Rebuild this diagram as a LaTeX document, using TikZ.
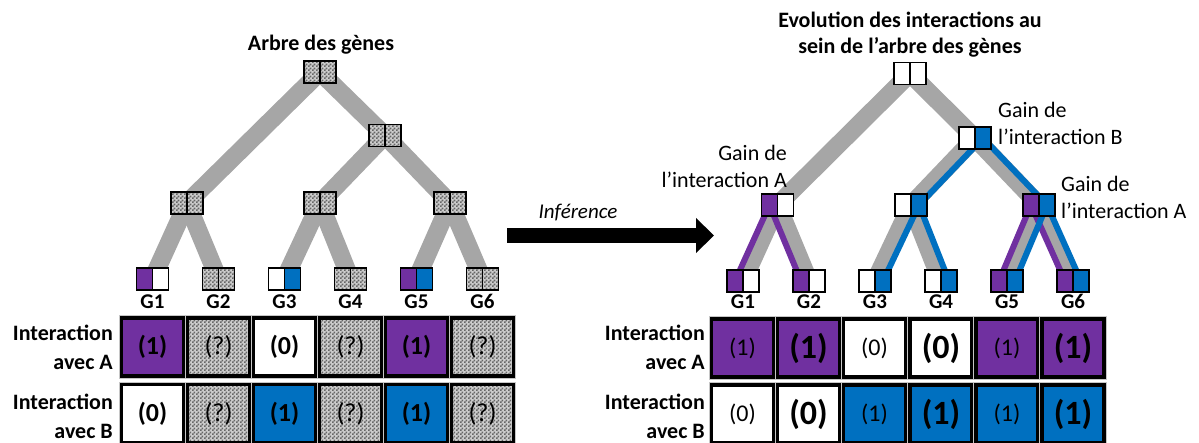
\documentclass[tikz,border=0pt]{standalone}
\usepackage{fontspec}
\setmainfont{Carlito}
\usetikzlibrary{patterns,arrows.meta,backgrounds}
\definecolor{ipurple}{HTML}{7030A0}
\definecolor{iblue}{HTML}{0070C0}
\definecolor{bandgray}{HTML}{A6A6A6}
\pgfdeclarepatternformonly{checker}{\pgfpointorigin}{\pgfpoint{4pt}{4pt}}{\pgfpoint{4pt}{4pt}}{%
  \pgfpathrectangle{\pgfpointorigin}{\pgfpoint{2pt}{2pt}}%
  \pgfpathrectangle{\pgfpoint{2pt}{2pt}}{\pgfpoint{2pt}{2pt}}%
  \pgfusepath{fill}}
\newcommand\twobox[5]{%
  \node[half,#4,anchor=east] (#1-a) at (#2,#3) {};
  \node[half,#5,anchor=west] (#1-b) at (#2,#3) {};
  \node[inner sep=0pt,minimum width=32pt,minimum height=22pt] (#1) at (#2,#3) {};
}
\tikzset{
  half/.style={draw,line width=1.8pt,minimum width=16pt,minimum height=22pt,inner sep=0pt,outer sep=0pt},
  pu/.style={fill=ipurple},
  bl/.style={fill=iblue},
  wh/.style={fill=white},
  ht/.style={preaction={fill=gray!40},preaction={pattern=checker,pattern color=black!60}},
  band/.style={draw=bandgray,line width=18pt},
  pline/.style={draw=ipurple,line width=6pt},
  bline/.style={draw=iblue,line width=6pt},
  ttl/.style={font=\bfseries\fontsize{22}{26}\selectfont,align=center,inner sep=0pt},
  rowlab/.style={font=\bfseries\fontsize{22}{29}\selectfont,align=right,anchor=east,inner sep=0pt},
  glab/.style={font=\bfseries\fontsize{21}{24}\selectfont,inner sep=0pt},
  gain/.style={font=\fontsize{22}{27}\selectfont,inner sep=0pt},
  cell/.style={draw,line width=3.2pt,minimum width=62pt,minimum height=58pt,inner sep=0pt,
    preaction={draw=gray!45,line width=5.2pt}},
  ctxt/.style={font=\bfseries\fontsize{26}{30}\selectfont},
  cq/.style={font=\fontsize{26}{30}\selectfont},
  csmall/.style={font=\fontsize{24}{28}\selectfont},
  cbig/.style={font=\bfseries\fontsize{34}{38}\selectfont},
}
\begin{document}
\begin{tikzpicture}[x=1pt,y=-1pt]
\useasboundingbox (0,0) rectangle (1199,443);

% ---------------- left tree ----------------
\node[ttl] (ltitle) at (321,45) {Arbre des gènes};
\twobox{lr}{320}{72}{ht}{ht}
\twobox{la}{385}{135.5}{ht}{ht}
\twobox{lb}{187}{203}{ht}{ht}
\twobox{lc}{320}{203}{ht}{ht}
\twobox{ld}{450}{203}{ht}{ht}
\twobox{lg1}{152.5}{279}{pu}{wh}
\twobox{lg2}{218.5}{279}{ht}{ht}
\twobox{lg3}{284.5}{279}{wh}{bl}
\twobox{lg4}{350.5}{279}{ht}{ht}
\twobox{lg5}{416.5}{279}{pu}{bl}
\twobox{lg6}{482.5}{279}{ht}{ht}
\begin{scope}[on background layer]
  \draw[band] (lr.center) -- (lb.center);
  \draw[band] (lr.center) -- (la.center);
  \draw[band] (la.center) -- (lc.center);
  \draw[band] (la.center) -- (ld.center);
  \draw[band] (lb.center) -- (lg1.center);
  \draw[band] (lb.center) -- (lg2.center);
  \draw[band] (lc.center) -- (lg3.center);
  \draw[band] (lc.center) -- (lg4.center);
  \draw[band] (ld.center) -- (lg5.center);
  \draw[band] (ld.center) -- (lg6.center);
\end{scope}
\foreach \i/\x in {1/152.5,2/218.5,3/284.5,4/350.5,5/416.5,6/482.5}
  \node[glab] (lgl\i) at (\x,301.5) {G\i};

\node[rowlab] (lrowa) at (113,347) {Interaction\\avec A};
\node[rowlab] (lrowb) at (113,416) {Interaction\\avec B};
\node[cell,pu,ctxt] (la1) at (152.5,347) {(1)};
\node[cell,ht,cq]   (la2) at (218.5,347) {(?)};
\node[cell,wh,ctxt] (la3) at (284.5,347) {(0)};
\node[cell,ht,cq]   (la4) at (350.5,347) {(?)};
\node[cell,pu,ctxt] (la5) at (416.5,347) {(1)};
\node[cell,ht,cq]   (la6) at (482.5,347) {(?)};
\node[cell,wh,ctxt] (lb1) at (152.5,413.5) {(0)};
\node[cell,ht,cq]   (lb2) at (218.5,413.5) {(?)};
\node[cell,bl,ctxt] (lb3) at (284.5,413.5) {(1)};
\node[cell,ht,cq]   (lb4) at (350.5,413.5) {(?)};
\node[cell,bl,ctxt] (lb5) at (416.5,413.5) {(1)};
\node[cell,ht,cq]   (lb6) at (482.5,413.5) {(?)};

% ---------------- arrow ----------------
\node[font=\itshape\fontsize{21}{25}\selectfont,inner sep=0pt] (inf) at (578,213) {Inférence};
\coordinate (as) at (507,235.5);
\coordinate (ae) at (714,235.5);
\draw[line width=15pt,-{Triangle[length=18pt,width=34pt]}] (as) -- (ae);

% ---------------- right tree ----------------
\node[ttl] (rtitle) at (910,35) {Evolution des interactions au\\sein de l’arbre des gènes};
\twobox{rr}{910}{73.5}{wh}{wh}
\twobox{ra}{975}{138}{wh}{bl}
\twobox{rb}{777.5}{205}{pu}{wh}
\twobox{rc}{911}{205}{wh}{bl}
\twobox{rd}{1039}{205}{pu}{bl}
\twobox{rg1}{743}{281}{pu}{wh}
\twobox{rg2}{809}{281}{pu}{wh}
\twobox{rg3}{875}{281}{wh}{bl}
\twobox{rg4}{941}{281}{wh}{bl}
\twobox{rg5}{1007}{281}{pu}{bl}
\twobox{rg6}{1073}{281}{pu}{bl}
\begin{scope}[on background layer]
  \draw[band] (rr.center) -- (rb.center);
  \draw[band] (rr.center) -- (ra.center);
  \draw[band] (ra.center) -- (rc.center);
  \draw[band] (ra.center) -- (rd.center);
  \draw[band] (rb.center) -- (rg1.center);
  \draw[band] (rb.center) -- (rg2.center);
  \draw[band] (rc.center) -- (rg3.center);
  \draw[band] (rc.center) -- (rg4.center);
  \draw[band] (rd.center) -- (rg5.center);
  \draw[band] (rd.center) -- (rg6.center);
  \draw[bline] (ra-b.center) -- (rc-b.center);
  \draw[bline] (ra-b.center) -- (rd-b.center);
  \draw[pline] (rb-a.center) -- (rg1-a.center);
  \draw[pline] (rb-a.center) -- (rg2-a.center);
  \draw[bline] (rc-b.center) -- (rg3-b.center);
  \draw[bline] (rc-b.center) -- (rg4-b.center);
  \draw[pline] (rd-a.center) -- (rg5-a.center);
  \draw[pline] (rd-a.center) -- (rg6-a.center);
  \draw[bline] (rd-b.center) -- (rg5-b.center);
  \draw[bline] (rd-b.center) -- (rg6-b.center);
\end{scope}
\node[gain,align=left,anchor=west] (gainb) at (998,123) {Gain de\\l’interaction B};
\node[gain,align=right,anchor=east] (gaina1) at (787,166) {Gain de\\l’interaction A};
\node[gain,align=left,anchor=west] (gaina2) at (1061,197.5) {Gain de\\l’interaction A};
\foreach \i/\x in {1/743,2/809,3/875,4/941,5/1007,6/1073}
  \node[glab] (rgl\i) at (\x,301.5) {G\i};

\node[rowlab] (rrowa) at (705,347) {Interaction\\avec A};
\node[rowlab] (rrowb) at (705,416) {Interaction\\avec B};
\node[cell,pu,csmall] (ra1) at (742.5,348) {(1)};
\node[cell,pu,cbig]   (ra2) at (808.5,348) {(1)};
\node[cell,wh,csmall] (ra3) at (874.5,348) {(0)};
\node[cell,wh,cbig]   (ra4) at (941,348) {(0)};
\node[cell,pu,csmall] (ra5) at (1007,348) {(1)};
\node[cell,pu,cbig]   (ra6) at (1073,348) {(1)};
\node[cell,wh,csmall] (rb1) at (742.5,414) {(0)};
\node[cell,wh,cbig]   (rb2) at (808.5,414) {(0)};
\node[cell,bl,csmall] (rb3) at (874.5,414) {(1)};
\node[cell,bl,cbig]   (rb4) at (941,414) {(1)};
\node[cell,bl,csmall] (rb5) at (1007,414) {(1)};
\node[cell,bl,cbig]   (rb6) at (1073,414) {(1)};
\end{tikzpicture}
\end{document}
